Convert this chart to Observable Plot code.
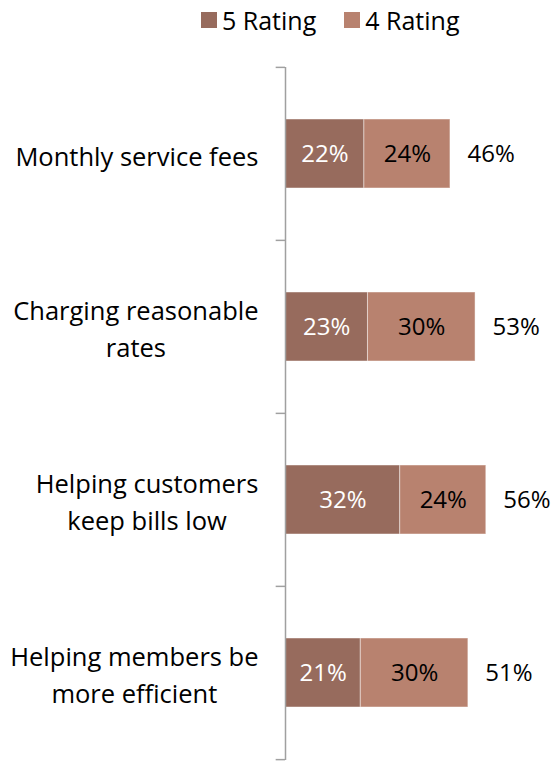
<!DOCTYPE html>
<html>
<head>
<meta charset="utf-8">
<script src="https://cdn.jsdelivr.net/npm/d3@7"></script>
<script src="https://cdn.jsdelivr.net/npm/@observablehq/plot@0.6"></script>
<style>
  body { margin: 0; background: #fff; font-family: "Open Sans", sans-serif; }
  #legend { height: 39px; display: flex; align-items: center; padding-left: 201px; font-size: 25px; color: #000; }
  .item { display: flex; align-items: center; margin-right: 28px; }
  .sw { width: 16px; height: 16px; margin-right: 5px; }
</style>
</head>
<body>
<div id="legend"></div>
<div id="chart"></div>
<script>
const categories = ["Monthly service fees", "Charging reasonable rates", "Helping customers keep bills low", "Helping members be more efficient"];
const categoryLabels = ["Monthly service fees", "Charging reasonable\nrates", "Helping customers\nkeep bills low", "Helping members be\nmore efficient"];
const seriesNames = ["5 Rating", "4 Rating"];
const rating5 = [22, 23, 32, 21];
const rating4 = [24, 30, 24, 30];
const totals = [46, 53, 56, 51];
const colors = ["#976b5d", "#b8826f"];
const textColors = ["#ffffff", "#000000"];

const rows = [];
categories.forEach((c, i) => {
  rows.push({cat: c, series: seriesNames[0], value: rating5[i]});
  rows.push({cat: c, series: seriesNames[1], value: rating4[i]});
});
const totalRows = categories.map((c, i) => ({cat: c, value: totals[i]}));

const legend = d3.select("#legend");
seriesNames.forEach((s, i) => {
  const it = legend.append("div").attr("class", "item");
  it.append("div").attr("class", "sw").style("background", colors[i]);
  it.append("span").text(s);
});

const W = 555, H = 722, mt = 28, mb = 1;
const step = (H - mt - mb) / categories.length;
const labelMap = new Map(categories.map((c, i) => [c, categoryLabels[i]]));
const FS = 24, LFS = 25.5;

const plot = Plot.plot({
  width: W, height: H,
  marginLeft: 285, marginRight: 0, marginTop: mt, marginBottom: mb,
  style: {fontFamily: "'Open Sans', sans-serif", fontSize: FS + "px", background: "#fff", color: "#000"},
  x: {domain: [0, 75.3], axis: null},
  y: {domain: categories, paddingInner: 0.6, paddingOuter: 0.3, label: null},
  color: {domain: seriesNames, range: colors},
  marks: [
    Plot.axisY({tickSize: 0, tickPadding: 27, label: null, tickFormat: d => labelMap.get(d), lineHeight: 1.42, fontSize: LFS, fill: "#000"}),
    Plot.barX(rows, Plot.stackX({x: "value", y: "cat", fill: "series", stroke: "#ffffff", strokeOpacity: 0.45, strokeWidth: 1})),
    Plot.textX(rows, Plot.stackX({x: "value", y: "cat", text: d => d.value + "%", fill: d => textColors[seriesNames.indexOf(d.series)], fontSize: FS})),
    Plot.text(totalRows, {x: "value", y: "cat", text: d => d.value + "%", textAnchor: "start", dx: 17, fontSize: FS, fill: "#000"}),
    Plot.ruleX([0], {stroke: "#a0a0a0", strokeWidth: 1.5}),
    Plot.ruleY(categories, {y: d => d, x1: -2.6, x2: 0, dy: -step / 2, stroke: "#a0a0a0", strokeWidth: 1.5}),
    Plot.ruleY(categories.slice(-1), {y: d => d, x1: -2.6, x2: 0, dy: step / 2, stroke: "#a0a0a0", strokeWidth: 1.5})
  ]
});
document.getElementById("chart").appendChild(plot);

// center multi-line labels within their block, block right-aligned
d3.select(plot).selectAll('g[aria-label="y-axis tick label"] text').each(function () {
  const t = d3.select(this);
  const w = this.getBBox().width;
  const cur = +(t.attr("x") || 0);
  t.attr("text-anchor", "middle").attr("x", cur - w / 2);
  t.selectAll("tspan").attr("x", cur - w / 2);
});
</script>
</body>
</html>
